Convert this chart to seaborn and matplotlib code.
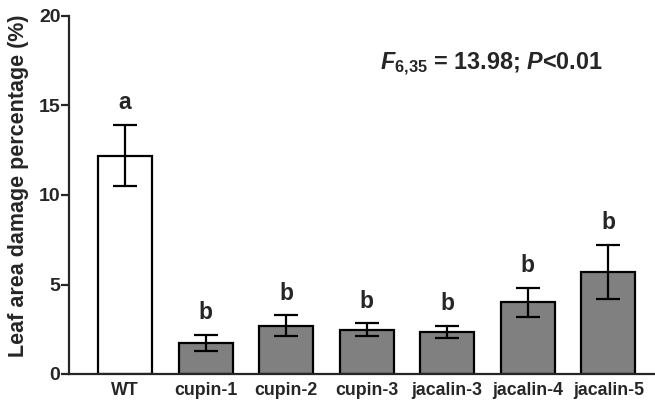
import matplotlib
matplotlib.use("Agg")
import matplotlib.pyplot as plt
import seaborn as sns
import pandas as pd

categories = ["WT", "cupin-1", "cupin-2", "cupin-3", "jacalin-3", "jacalin-4", "jacalin-5"]
means = [12.2, 1.72, 2.70, 2.47, 2.35, 4.02, 5.70]
sems = [1.72, 0.46, 0.57, 0.36, 0.34, 0.81, 1.52]
letters = ["a", "b", "b", "b", "b", "b", "b"]
yticks = [0, 5, 10, 15, 20]

sns.set_style("ticks")
plt.rcParams["font.family"] = ["Liberation Sans", "DejaVu Sans"]
plt.rcParams["font.weight"] = "bold"
plt.rcParams["mathtext.fontset"] = "custom"
plt.rcParams["mathtext.rm"] = "Liberation Sans:bold"
plt.rcParams["mathtext.bf"] = "Liberation Sans:bold"
plt.rcParams["mathtext.it"] = "Liberation Sans:bold:italic"
plt.rcParams["mathtext.bfit"] = "Liberation Sans:bold:italic"

df = pd.DataFrame({"group": categories, "value": means})
colors = ["white"] + ["#808080"] * (len(categories) - 1)

fig = plt.figure(figsize=(6.55, 4.0), dpi=100)
ax = fig.add_axes([0.106, 0.065, 0.894, 0.895])
sns.barplot(data=df, x="group", y="value", hue="group", palette=colors, legend=False,
            edgecolor="black", linewidth=1.6, width=0.67, ax=ax, errorbar=None)
ax.errorbar(range(len(categories)), means, yerr=sems, fmt="none", ecolor="black",
            elinewidth=1.6, capsize=8.5, capthick=1.6)
for i, (m, s, l) in enumerate(zip(means, sems, letters)):
    ax.text(i, m + s + 0.6, l, ha="center", va="bottom", fontsize=16.5, fontweight="bold")

ax.set_xlim(-0.69, 6.58)
ax.set_ylim(0, 20)
ax.set_yticks(yticks)
ax.set_yticklabels([str(t) for t in yticks], fontsize=14, fontweight="bold")
ax.tick_params(axis="y", length=6, width=1.6, pad=0.5)
ax.tick_params(axis="x", length=0, pad=6, labelsize=12.8)
for lab in ax.get_xticklabels():
    lab.set_fontweight("bold")
ax.set_xlabel("")
ax.set_ylabel("Leaf area damage percentage (%)", fontsize=15.5, fontweight="bold")
ax.yaxis.set_label_coords(-0.069, 0.525)
sns.despine(ax=ax)
ax.spines["left"].set_linewidth(1.6)
ax.spines["bottom"].set_linewidth(1.6)

ax.text(4.55, 17.3, r"$\mathbfit{F}_{\mathbf{6{,}35}}$ = 13.98; $\mathbfit{P}$<0.01",
        ha="center", va="center", fontsize=16.8, fontweight="bold")

fig.savefig("out.png", dpi=100)
